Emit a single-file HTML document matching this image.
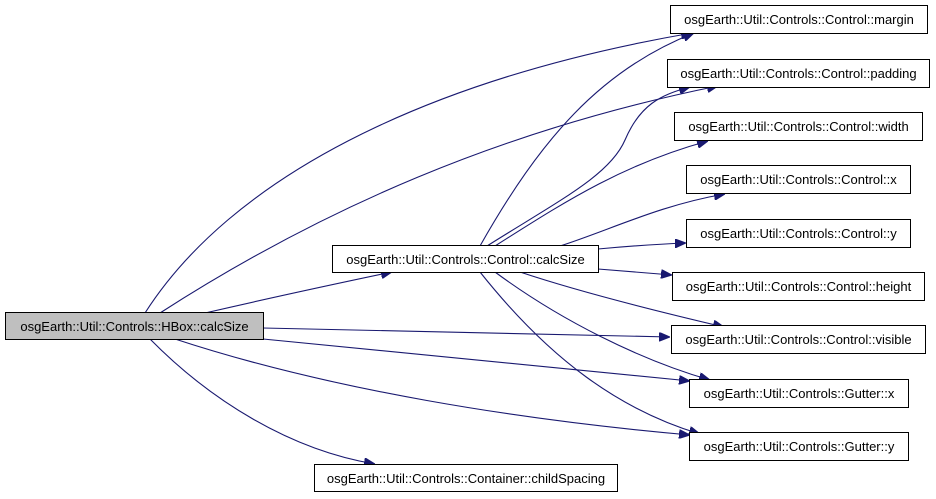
<!DOCTYPE html>
<html><head><meta charset="utf-8"><style>
html,body{margin:0;padding:0;background:#fff;}
svg{display:block;}
text{font-family:"Liberation Sans",Arial,sans-serif;font-size:13px;fill:#000;}
</style></head><body>
<svg width="936" height="499" viewBox="0 0 936 499" xmlns="http://www.w3.org/2000/svg">
<defs>
<marker id="a" markerWidth="11" markerHeight="9" refX="11" refY="4.5" orient="auto" markerUnits="userSpaceOnUse">
<path d="M0,0 L11,4.5 L0,9 z" fill="#191970" stroke="#191970"/>
</marker>
</defs>
<g fill="none" stroke="#191970" stroke-width="1.1" marker-end="url(#a)">
<path d="M145,313 C230,180 420,80 692,33"/>
<path d="M160,313 C320,210 500,130 718,86"/>
<path d="M205,313 C270,298 330,285 392,272"/>
<path d="M263,328 C420,331 560,335 670,337"/>
<path d="M263,339 C420,355 560,368 690,381"/>
<path d="M175,339 C330,390 520,420 690,435"/>
<path d="M150,339 C210,400 290,450 375,464"/>
<path d="M480,246 C540,140 600,70 694,33"/>
<path d="M487,246 C560,200 610,175 625,140 C640,105 660,95 690,87"/>
<path d="M495,246 C560,205 620,165 708,141"/>
<path d="M560,246 C610,230 660,205 725,194"/>
<path d="M598,249 C630,246 660,244 686,243"/>
<path d="M598,269 C625,271 650,273 672,275"/>
<path d="M520,272 C580,292 660,312 724,327"/>
<path d="M495,272 C560,320 640,360 710,380"/>
<path d="M480,272 C550,360 620,410 700,434"/>
</g>
<g stroke="#000" stroke-width="1">
<rect x="5.5" y="312.5" width="258" height="27" fill="#bfbfbf"/>
<rect x="332.5" y="245.5" width="266" height="27" fill="#fff"/>
<rect x="314.5" y="464.5" width="303" height="27" fill="#fff"/>
<rect x="670.5" y="5.5" width="257" height="28" fill="#fff"/>
<rect x="667.5" y="59.5" width="262" height="28" fill="#fff"/>
<rect x="674.5" y="112.5" width="248" height="28" fill="#fff"/>
<rect x="686.5" y="165.5" width="224" height="28" fill="#fff"/>
<rect x="686.5" y="219.5" width="224" height="28" fill="#fff"/>
<rect x="672.5" y="272.5" width="252" height="28" fill="#fff"/>
<rect x="671.5" y="325.5" width="254" height="28" fill="#fff"/>
<rect x="689.5" y="379.5" width="219" height="28" fill="#fff"/>
<rect x="689.5" y="432.5" width="219" height="28" fill="#fff"/>
</g>
<g text-anchor="middle">
<text x="134.5" y="331">osgEarth::Util::Controls::HBox::calcSize</text>
<text x="465.5" y="264">osgEarth::Util::Controls::Control::calcSize</text>
<text x="466" y="483">osgEarth::Util::Controls::Container::childSpacing</text>
<text x="799" y="24">osgEarth::Util::Controls::Control::margin</text>
<text x="798.5" y="78">osgEarth::Util::Controls::Control::padding</text>
<text x="798.5" y="131">osgEarth::Util::Controls::Control::width</text>
<text x="798.5" y="184">osgEarth::Util::Controls::Control::x</text>
<text x="798.5" y="238">osgEarth::Util::Controls::Control::y</text>
<text x="798.5" y="291">osgEarth::Util::Controls::Control::height</text>
<text x="798.5" y="344">osgEarth::Util::Controls::Control::visible</text>
<text x="799" y="398">osgEarth::Util::Controls::Gutter::x</text>
<text x="799" y="451">osgEarth::Util::Controls::Gutter::y</text>
</g>
</svg>
</body></html>
